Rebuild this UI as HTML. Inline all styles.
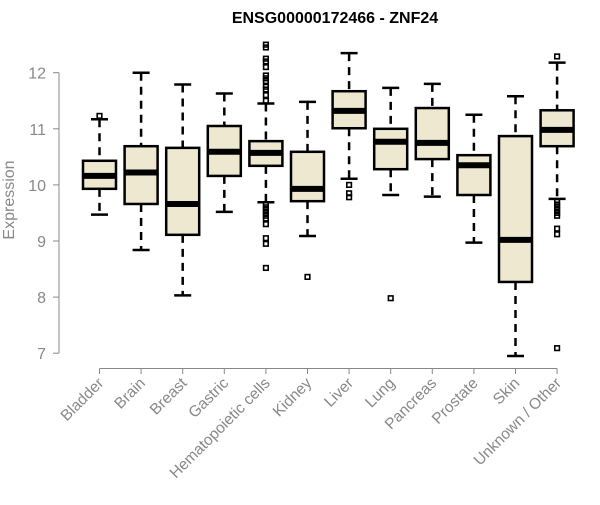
<!DOCTYPE html>
<html><head><meta charset="utf-8"><style>
body{margin:0;background:#fff;}
svg text{font-family:"Liberation Sans",Arial,sans-serif;}
</style></head><body>
<svg id="chart" width="600" height="500" xmlns="http://www.w3.org/2000/svg">
<text x="335" y="23" text-anchor="middle" font-weight="bold" font-size="16">ENSG00000172466 - ZNF24</text>
<text transform="translate(14,200) rotate(-90)" text-anchor="middle" font-size="16" fill="#888">Expression</text>
<g id="yaxis"></g>
<g id="xaxis"></g>
<g id="boxes"></g>
</svg>
<script>
const categories=["Bladder","Brain","Breast","Gastric","Hematopoietic cells","Kidney","Liver","Lung","Pancreas","Prostate","Skin","Unknown / Other"];
const lowWhisker=[9.47,8.84,8.03,9.52,9.69,9.09,10.11,9.82,9.79,8.97,6.95,9.75];
const q1=[9.93,9.66,9.11,10.16,10.34,9.71,11.01,10.28,10.46,9.82,8.27,10.69];
const median=[10.16,10.22,9.66,10.59,10.57,9.93,11.32,10.77,10.75,10.35,9.02,10.98];
const q3=[10.43,10.69,10.66,11.05,10.78,10.59,11.67,11.0,11.37,10.53,10.87,11.33];
const highWhisker=[11.17,12.0,11.79,11.63,11.45,11.48,12.35,11.73,11.8,11.25,11.58,12.18];
const outliers=[[11.23],[],[],[],[12.5,12.45,12.25,12.2,12.1,11.95,11.9,11.85,11.75,11.7,11.6,11.5,9.65,9.6,9.55,9.5,9.45,9.4,9.3,9.05,8.95,8.52],[8.36],[10.0,9.85,9.78],[7.98],[],[],[],[12.29,9.7,9.65,9.6,9.55,9.5,9.45,9.22,9.12,7.09]];
const yTicks=[7,8,9,10,11,12];
const NS="http://www.w3.org/2000/svg";
function y(v){return 72.7+(12-v)*56.1;}
function x(i){return 99.5+i*41.6;}
function mk(parent,tag,attrs){const e=document.createElementNS(NS,tag);for(const k in attrs)e.setAttribute(k,attrs[k]);parent.appendChild(e);return e;}
const ya=document.getElementById('yaxis');
mk(ya,'line',{x1:59,x2:59,y1:y(12),y2:y(7),stroke:'#888','stroke-width':1});
yTicks.forEach(t=>{
 mk(ya,'line',{x1:53,x2:59,y1:y(t),y2:y(t),stroke:'#888'});
 const tx=mk(ya,'text',{x:46,y:y(t)+6,'text-anchor':'end','font-size':16,fill:'#888'});
 tx.textContent=t;
 
 
});
const xa=document.getElementById('xaxis');
mk(xa,'line',{x1:x(0),x2:x(categories.length-1),y1:368.5,y2:368.5,stroke:'#888'});
categories.forEach((c,i)=>{
 mk(xa,'line',{x1:x(i),x2:x(i),y1:368.5,y2:374,stroke:'#888'});
 const tx=mk(xa,'text',{transform:`translate(${x(i)+5},${384}) rotate(-45)`,'text-anchor':'end','font-size':15.5,fill:'#888'});
 tx.textContent=c;
 
 
});
const bx=document.getElementById('boxes');
categories.forEach((c,i)=>{
 const g=mk(bx,'g',{});
 
 
 const cx=x(i),hw=16.5;
 mk(g,'line',{x1:cx,x2:cx,y1:y(highWhisker[i]),y2:y(q3[i]),stroke:'#000','stroke-width':2.5,'stroke-dasharray':'8,6'});
 mk(g,'line',{x1:cx,x2:cx,y1:y(q1[i]),y2:y(lowWhisker[i]),stroke:'#000','stroke-width':2.5,'stroke-dasharray':'8,6'});
 mk(g,'line',{x1:cx-8.5,x2:cx+8.5,y1:y(highWhisker[i]),y2:y(highWhisker[i]),stroke:'#000','stroke-width':2.5});
 mk(g,'line',{x1:cx-8.5,x2:cx+8.5,y1:y(lowWhisker[i]),y2:y(lowWhisker[i]),stroke:'#000','stroke-width':2.5});
 mk(g,'rect',{x:cx-hw,y:y(q3[i]),width:hw*2,height:y(q1[i])-y(q3[i]),fill:'#ede8cf',stroke:'#000','stroke-width':2.5});
 mk(g,'line',{x1:cx-hw,x2:cx+hw,y1:y(median[i]),y2:y(median[i]),stroke:'#000','stroke-width':6});
 outliers[i].forEach(o=>{
  const r=mk(g,'rect',{x:cx-2.3,y:y(o)-2.3,width:4.6,height:4.6,fill:'none',stroke:'#000','stroke-width':1.6});
  
  
 });
});
</script>
</body></html>
